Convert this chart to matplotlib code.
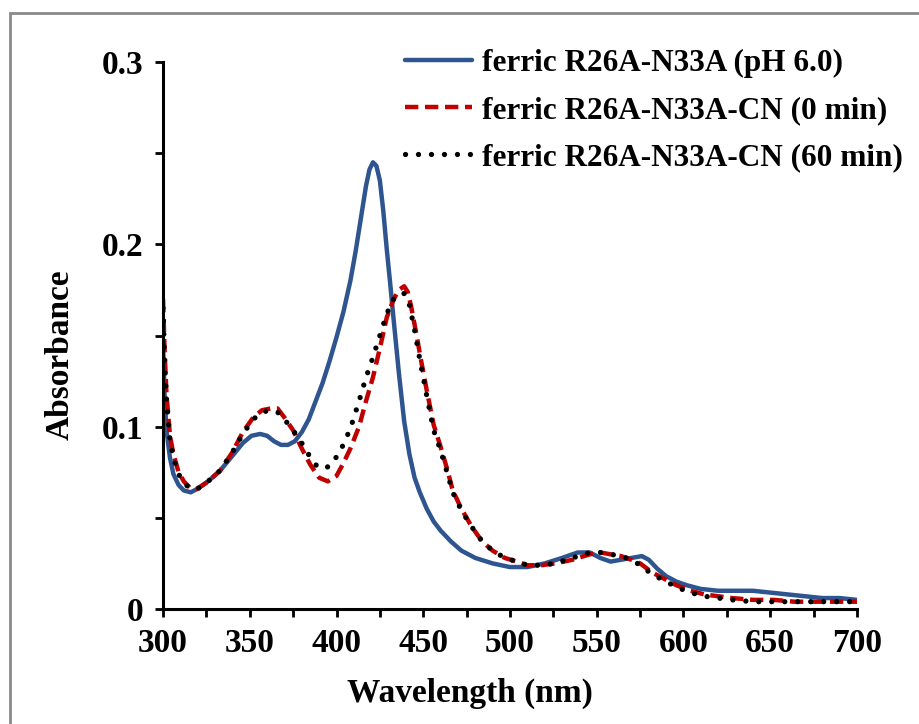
import matplotlib
matplotlib.use("Agg")
import matplotlib.pyplot as plt
from matplotlib.patches import Rectangle

# wavelength (nm) / absorbance
wl_blue = [300, 301, 302, 304, 306, 309, 312, 316, 320, 326, 333, 340, 346, 351, 356, 360,
           364, 368, 372, 376, 380, 384, 388, 392, 396, 400, 404, 408, 411, 414, 417, 419,
           421, 423, 425, 427, 429, 431, 433, 436, 439, 442, 445, 448, 452, 456, 460, 466,
           472, 480, 490, 500, 510, 520, 530, 539, 546, 552, 558, 564, 570, 576, 580, 585,
           590, 596, 602, 610, 620, 630, 640, 650, 660, 670, 680, 690, 700]
abs_blue = [0.145, 0.115, 0.098, 0.083, 0.074, 0.068, 0.065, 0.064, 0.066, 0.070, 0.076,
            0.084, 0.091, 0.095, 0.096, 0.095, 0.092, 0.090, 0.090, 0.092, 0.097, 0.104,
            0.114, 0.124, 0.136, 0.149, 0.163, 0.180, 0.196, 0.214, 0.232, 0.241, 0.245,
            0.243, 0.235, 0.218, 0.197, 0.178, 0.158, 0.129, 0.103, 0.085, 0.072, 0.064,
            0.055, 0.048, 0.043, 0.037, 0.032, 0.028, 0.025, 0.023, 0.023, 0.025, 0.028,
            0.031, 0.031, 0.028, 0.026, 0.027, 0.028, 0.029, 0.027, 0.022, 0.018, 0.015,
            0.013, 0.011, 0.010, 0.010, 0.010, 0.009, 0.008, 0.007, 0.006, 0.006, 0.005]

wl_red = [300, 301, 302, 304, 306, 309, 312, 316, 320, 326, 333, 340, 346, 352, 357, 362,
          366, 370, 375, 380, 385, 390, 395, 400, 404, 408, 413, 417, 421, 425, 429, 433,
          436, 439, 441, 443, 446, 449, 452, 456, 460, 464, 467, 472, 478, 484, 490, 497,
          504, 510, 518, 526, 536, 546, 552, 558, 564, 570, 575, 582, 590, 596, 604, 612,
          620, 628, 640, 652, 664, 676, 688, 700]
abs_red = [0.170, 0.140, 0.118, 0.095, 0.085, 0.075, 0.070, 0.066, 0.066, 0.070, 0.076,
           0.086, 0.097, 0.105, 0.109, 0.110, 0.110, 0.105, 0.098, 0.088, 0.079, 0.072,
           0.070, 0.073, 0.080, 0.088, 0.100, 0.114, 0.127, 0.143, 0.160, 0.170, 0.175,
           0.177, 0.174, 0.166, 0.151, 0.135, 0.120, 0.101, 0.089, 0.076, 0.065, 0.055,
           0.045, 0.037, 0.032, 0.028, 0.026, 0.024, 0.024, 0.025, 0.027, 0.030, 0.031,
           0.030, 0.029, 0.027, 0.025, 0.020, 0.016, 0.013, 0.010, 0.008, 0.007, 0.006,
           0.005, 0.005, 0.004, 0.004, 0.004, 0.004]

wl_black = [300, 301, 302, 304, 306, 309, 312, 316, 320, 326, 333, 340, 346, 352, 357, 362,
            366, 370, 375, 380, 385, 389, 393, 397, 401, 405, 409, 413, 417, 421, 425, 429,
            433, 436, 439, 442, 445, 448, 452, 456, 460, 464, 467, 472, 478, 484, 490, 497,
            504, 510, 518, 526, 536, 546, 552, 558, 564, 570, 575, 582, 590, 596, 604, 612,
            620, 628, 640, 652, 664, 676, 688, 700]
abs_black = [0.165, 0.135, 0.115, 0.093, 0.083, 0.074, 0.069, 0.066, 0.066, 0.070, 0.076,
             0.086, 0.096, 0.104, 0.108, 0.109, 0.108, 0.104, 0.098, 0.091, 0.083, 0.078,
             0.077, 0.079, 0.085, 0.092, 0.102, 0.114, 0.127, 0.138, 0.150, 0.162, 0.170,
             0.173, 0.173, 0.167, 0.153, 0.137, 0.117, 0.098, 0.087, 0.074, 0.064, 0.054,
             0.045, 0.037, 0.032, 0.028, 0.026, 0.024, 0.024, 0.025, 0.028, 0.031, 0.031,
             0.030, 0.029, 0.027, 0.024, 0.019, 0.015, 0.012, 0.009, 0.007, 0.006, 0.005,
             0.004, 0.004, 0.004, 0.004, 0.004, 0.004]

labels = ['ferric R26A-N33A (pH 6.0)',
          'ferric R26A-N33A-CN (0 min)',
          'ferric R26A-N33A-CN (60 min)']

x_ticks = list(range(300, 701, 25))
x_labels = [str(t) if t % 50 == 0 else '' for t in x_ticks]
y_ticks = [0, 0.05, 0.1, 0.15, 0.2, 0.25, 0.3]
y_labels = ['0', '', '0.1', '', '0.2', '', '0.3']

plt.rcParams['font.family'] = 'Liberation Serif'
plt.rcParams['font.weight'] = 'bold'

fig = plt.figure(figsize=(9.2, 7.24), dpi=100)
ax = fig.add_axes([163 / 920, 1 - 609 / 724, 694 / 920, 547 / 724])

# grey frame around the picture
fig.patches.append(Rectangle((10 / 920, -0.1), 1.2, 1 - 13 / 724 + 0.1, transform=fig.transFigure,
                             fill=False, edgecolor='#8a8a8a', linewidth=2))

ax.plot(wl_blue, abs_blue, color='#2E5590', lw=3.2, label=labels[0], solid_capstyle='round')
ax.plot(wl_red, abs_red, color='#C00000', lw=3.2, label=labels[1],
        linestyle=(0, (3.0, 1.5)))
ax.plot(wl_black, abs_black, color='black', lw=3.8, label=labels[2],
        linestyle=(0, (0.01, 2.45)), dash_capstyle='round')

ax.set_xlim(300, 700)
ax.set_ylim(0, 0.3)
ax.set_xticks(x_ticks)
ax.set_xticklabels(x_labels)
ax.set_yticks(y_ticks)
ax.set_yticklabels(y_labels)
ax.tick_params(direction='out', length=6, width=2, labelsize=24, pad=8)

for s in ['top', 'right']:
    ax.spines[s].set_visible(False)
for s in ['left', 'bottom']:
    ax.spines[s].set_linewidth(2.2)

ax.set_xlabel('Wavelength (nm)', fontsize=24, fontweight='bold', labelpad=10)
ax.xaxis.set_label_coords((470 - 163) / 694, -0.125)
ax.set_ylabel('Absorbance', fontsize=24, fontweight='bold')
ax.yaxis.set_label_coords((76 - 163) / 694, (609 - 355) / 547)

fig.legend(loc='upper left', bbox_to_anchor=(405 / 920, 1 - 49 / 724), frameon=False,
           fontsize=22.5, handlelength=2.15, handletextpad=0.3, labelspacing=0.58,
           borderpad=0, borderaxespad=0)

fig.savefig('out.png', dpi=100)
